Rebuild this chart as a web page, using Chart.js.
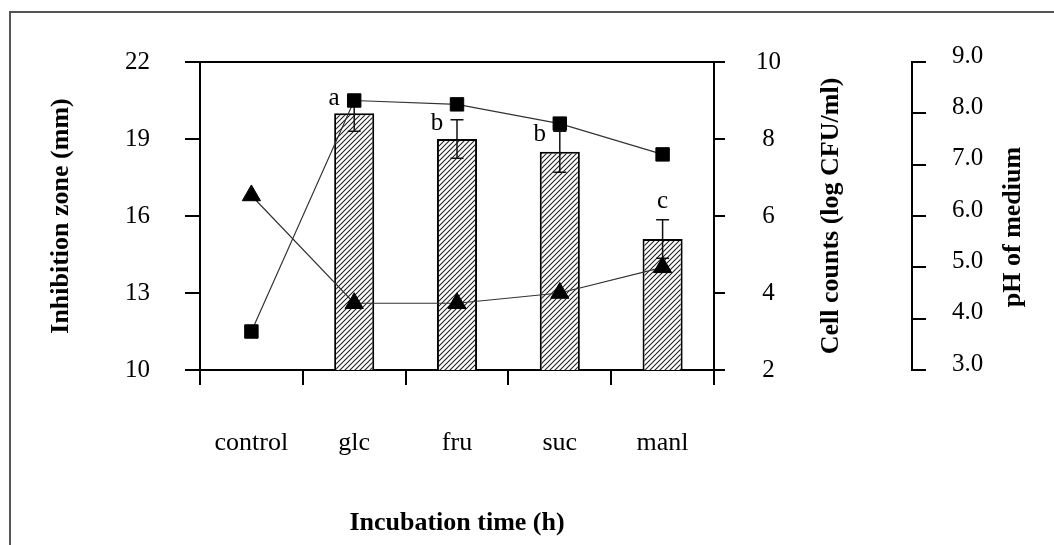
<!DOCTYPE html>
<html>
<head>
<meta charset="utf-8">
<script src="https://cdn.jsdelivr.net/npm/chart.js@4.4.1/dist/chart.umd.min.js"></script>
<style>
  body { margin: 0; background: #fff; }
  #wrap { position: relative; width: 1054px; height: 545px; overflow: hidden; }
  #frame {
    position: absolute; left: 9px; top: 11px; width: 1100px; height: 600px;
    border-left: 2px solid #555; border-top: 2px solid #555; pointer-events: none;
  }
</style>
</head>
<body>
<div id="wrap">
  <canvas id="chart" width="1054" height="545"></canvas>
  <div id="frame"></div>
</div>
<script>
const categories = ['control', 'glc', 'fru', 'suc', 'manl'];
const inhibitionZone = [null, 20.0, 19.0, 18.5, 15.1];
const inhibitionError = [null, 0.7, 0.75, 0.8, 0.75];
const significance = [null, 'a', 'b', 'b', 'c'];
const cellCounts = [3.0, 9.0, 8.9, 8.4, 7.6];
const mediumPH = [6.4, 4.3, 4.3, 4.5, 5.0];
const zoneTicks = [10, 13, 16, 19, 22];
const cellTicks = [2, 4, 6, 8, 10];
const phTicks = [3, 4, 5, 6, 7, 8, 9];

const SERIF = '"Liberation Serif", "Times New Roman", serif';

const canvas = document.getElementById('chart');
const ctx = canvas.getContext('2d');

// diagonal hatch used to fill the bars
function makeHatch() {
  const tile = document.createElement('canvas');
  tile.width = 5;
  tile.height = 5;
  const g = tile.getContext('2d');
  g.fillStyle = '#fff';
  g.fillRect(0, 0, 5, 5);
  g.strokeStyle = '#222';
  g.lineWidth = 1.1;
  g.beginPath();
  g.moveTo(-1, 6); g.lineTo(6, -1);
  g.moveTo(-1, 1); g.lineTo(1, -1);
  g.moveTo(4, 6); g.lineTo(6, 4);
  g.stroke();
  return ctx.createPattern(tile, 'repeat');
}

function setTicks(values) {
  return scale => { scale.ticks = values.map(v => ({ value: v })); };
}

// error bars + significance letters, drawn right after the bars
const errorBars = {
  id: 'errorBars',
  afterDatasetDraw(chart, args) {
    if (args.meta.type !== 'bar') return;
    const { y, y1 } = chart.scales;
    const c = chart.ctx;
    c.save();
    c.strokeStyle = '#111';
    c.lineWidth = 1.5;
    c.fillStyle = '#000';
    c.font = '25px ' + SERIF;
    c.textAlign = 'center';
    c.textBaseline = 'alphabetic';
    args.meta.data.forEach((bar, i) => {
      const v = inhibitionZone[i];
      if (v == null) return;
      const top = y.getPixelForValue(v + inhibitionError[i]);
      const bot = y.getPixelForValue(v - inhibitionError[i]);
      c.beginPath();
      c.moveTo(bar.x, top); c.lineTo(bar.x, bot);
      c.moveTo(bar.x - 6.5, top); c.lineTo(bar.x + 6.5, top);
      c.moveTo(bar.x - 6.5, bot); c.lineTo(bar.x + 6.5, bot);
      c.stroke();
      // put the letter beside the cap when a marker sits just above it
      const marker = y1.getPixelForValue(cellCounts[i]);
      if (top - marker < 40) {
        c.fillText(significance[i], bar.x - bar.width / 2, top + 10);
      } else {
        c.fillText(significance[i], bar.x, top - 12);
      }
    });
    c.restore();
  }
};

// titles of the two right axes, read bottom to top
const sideTitles = {
  id: 'sideTitles',
  afterDraw(chart) {
    const { chartArea, scales } = chart;
    const c = chart.ctx;
    const put = (text, x, y) => {
      c.save();
      c.translate(x, y);
      c.rotate(-Math.PI / 2);
      c.fillText(text, 0, 0);
      c.restore();
    };
    c.save();
    c.font = 'bold 26px ' + SERIF;
    c.fillStyle = '#000';
    c.textAlign = 'center';
    c.textBaseline = 'middle';
    put('Cell counts (log CFU/ml)', scales.y1.left + 117, (chartArea.top + chartArea.bottom) / 2);
    put('pH of medium', scales.y2.left + 101, chartArea.top + 165);
    c.restore();
  }
};

const axisBorder = { display: true, color: '#000', width: 2 };

new Chart(ctx, {
  type: 'bar',
  data: {
    labels: categories,
    datasets: [
      {
        type: 'line',
        label: 'Cell counts',
        data: cellCounts,
        yAxisID: 'y1',
        order: 0,
        borderColor: '#333',
        borderWidth: 1.2,
        pointStyle: 'rect',
        pointRadius: 9.5,
        pointBackgroundColor: '#000',
        pointBorderColor: '#000',
        pointBorderWidth: 1,
      },
      {
        type: 'line',
        label: 'pH',
        data: mediumPH,
        yAxisID: 'y2',
        order: 0,
        borderColor: '#333',
        borderWidth: 1.2,
        pointStyle: 'triangle',
        pointRadius: 10.5,
        pointBackgroundColor: '#000',
        pointBorderColor: '#000',
        pointBorderWidth: 1,
      },
      {
        type: 'bar',
        label: 'Inhibition zone',
        data: inhibitionZone,
        yAxisID: 'y',
        order: 1,
        backgroundColor: makeHatch(),
        borderColor: '#000',
        borderWidth: 2,
        borderSkipped: false,
        barPercentage: 0.39,
        categoryPercentage: 1,
      },
    ],
  },
  options: {
    responsive: false,
    animation: false,
    devicePixelRatio: 1,
    layout: { padding: { top: 62, left: 0, right: 0, bottom: 0 } },
    plugins: {
      legend: { display: false },
      tooltip: { enabled: false },
    },
    scales: {
      x: {
        offset: true,
        grid: {
          drawOnChartArea: false,
          offset: true,
          color: '#000',
          lineWidth: 2,
          tickLength: 15,
          tickColor: '#000',
          tickWidth: 2,
        },
        border: axisBorder,
        ticks: {
          color: '#000',
          font: { family: SERIF, size: 26 },
          padding: 43,
          maxRotation: 0,
          autoSkip: false,
        },
        title: {
          display: true,
          text: 'Incubation time (h)',
          color: '#000',
          font: { family: SERIF, size: 26, weight: 'bold' },
          padding: { top: 0, bottom: 6 },
        },
        afterFit: s => { s.height = 175; },
      },
      y: {
        position: 'left',
        min: zoneTicks[0],
        max: zoneTicks[zoneTicks.length - 1],
        afterBuildTicks: setTicks(zoneTicks),
        grid: {
          drawOnChartArea: true,
          color: c => (c.tick && c.tick.value === 22 ? '#000' : 'rgba(0,0,0,0)'),
          lineWidth: 2,
          tickLength: 15,
          tickColor: '#000',
          tickWidth: 2,
        },
        border: axisBorder,
        ticks: {
          color: '#000',
          font: { family: SERIF, size: 25 },
          padding: 35,
        },
        title: {
          display: true,
          text: 'Inhibition zone (mm)',
          color: '#000',
          font: { family: SERIF, size: 26, weight: 'bold' },
          padding: { top: 46, bottom: 0 },
        },
        afterFit: s => { s.width = 200; },
      },
      y1: {
        position: 'right',
        weight: 0,
        min: cellTicks[0],
        max: cellTicks[cellTicks.length - 1],
        afterBuildTicks: setTicks(cellTicks),
        grid: {
          drawOnChartArea: false,
          color: '#000',
          lineWidth: 2,
          tickLength: 11,
          tickColor: '#000',
          tickWidth: 2,
        },
        border: axisBorder,
        ticks: {
          color: '#000',
          font: { family: SERIF, size: 25 },
          padding: 31,
          crossAlign: 'center',
        },
        afterFit: s => { s.width = 198; },
      },
      y2: {
        position: 'right',
        weight: 1,
        min: phTicks[0],
        max: phTicks[phTicks.length - 1],
        afterBuildTicks: setTicks(phTicks),
        grid: {
          drawOnChartArea: false,
          color: '#000',
          lineWidth: 2,
          tickLength: 14,
          tickColor: '#000',
          tickWidth: 2,
        },
        border: axisBorder,
        ticks: {
          color: '#000',
          font: { family: SERIF, size: 25 },
          padding: 26,
          labelOffset: -6,
          callback: v => Number(v).toFixed(1),
        },
        afterFit: s => { s.width = 142; },
      },
    },
  },
  plugins: [errorBars, sideTitles],
});
</script>
</body>
</html>
